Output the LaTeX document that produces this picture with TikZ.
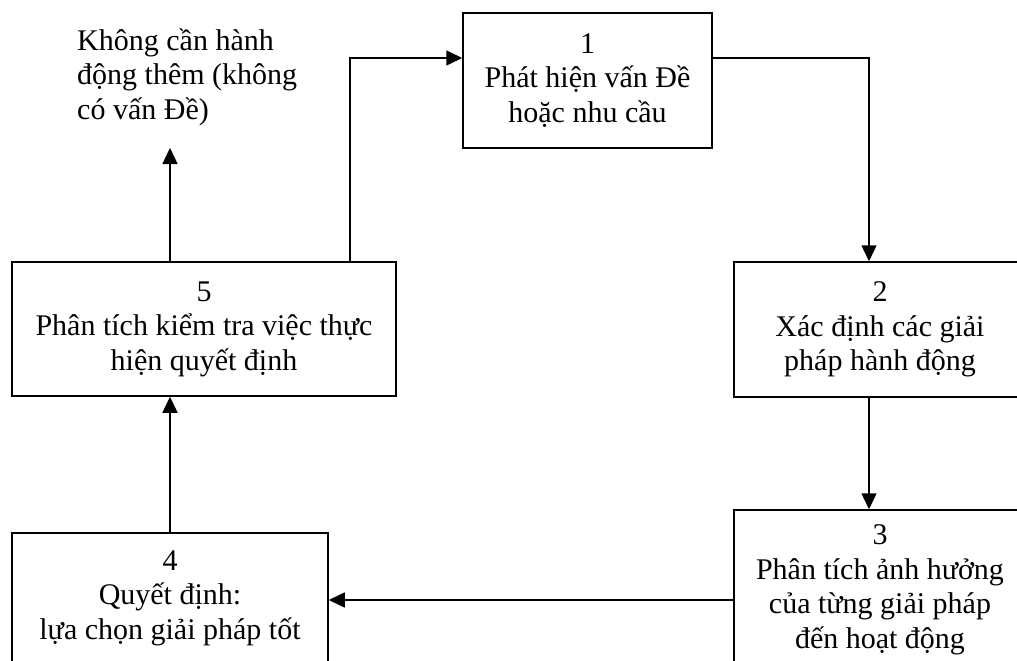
\documentclass[tikz,border=0pt]{standalone}
\usepackage{fontspec}
\setmainfont{Liberation Serif}
\usetikzlibrary{arrows.meta}
\tikzstyle{stepbox} = [draw=black, rectangle, line width=1.5pt, align=center, inner sep=0pt]
\tikzstyle{flow} = [line width=1.5pt, -{Triangle[length=16pt,width=15pt]}]

\begin{document}
\begin{tikzpicture}[x=1pt,y=-1pt]
\fontsize{30}{34.5}\selectfont
\clip (0,0) rectangle (1017,661);

\def\boxh{135pt}

\node[stepbox, minimum width=249pt, minimum height=\boxh] (find) at (587.5,80.5) {1\\Phát hiện vấn Đề\\hoặc nhu cầu};
\node[stepbox, minimum width=292pt, minimum height=\boxh] (options) at (880,329.5) {2\\Xác định các giải\\pháp hành động};
\node[stepbox, minimum width=292pt, minimum height=160pt] (effect) at (880,590) {3\\Phân tích ảnh hưởng\\của từng giải pháp\\đến hoạt động};
\node[stepbox, minimum width=316pt, minimum height=130pt] (choose) at (170,598) {4\\Quyết định:\\lựa chọn giải pháp tốt};
\node[stepbox, minimum width=384pt, minimum height=134pt] (review) at (204,329) {5\\Phân tích kiểm tra việc thực\\hiện quyết định};

\node[align=left, anchor=west, inner sep=0pt] (done) at (77,77) {Không cần hành\\động thêm (không\\có vấn Đề)};

\coordinate (up) at (170,148);
\coordinate (loop) at (350,58);
\coordinate (turn) at (869,58);

\draw[flow] (choose.north) -- (review.south -| choose.north);
\draw[flow] (review.north -| choose.north) -- (up);
\draw[flow] (review.north -| loop) -- (loop) -- (find.west |- loop);
\draw[flow] (find.east |- turn) -- (turn) -- (options.north -| turn);
\draw[flow] (options.south -| turn) -- (effect.north -| turn);
\draw[flow] (effect.west |- 0,600) -- (choose.east |- 0,600);

\end{tikzpicture}
\end{document}
